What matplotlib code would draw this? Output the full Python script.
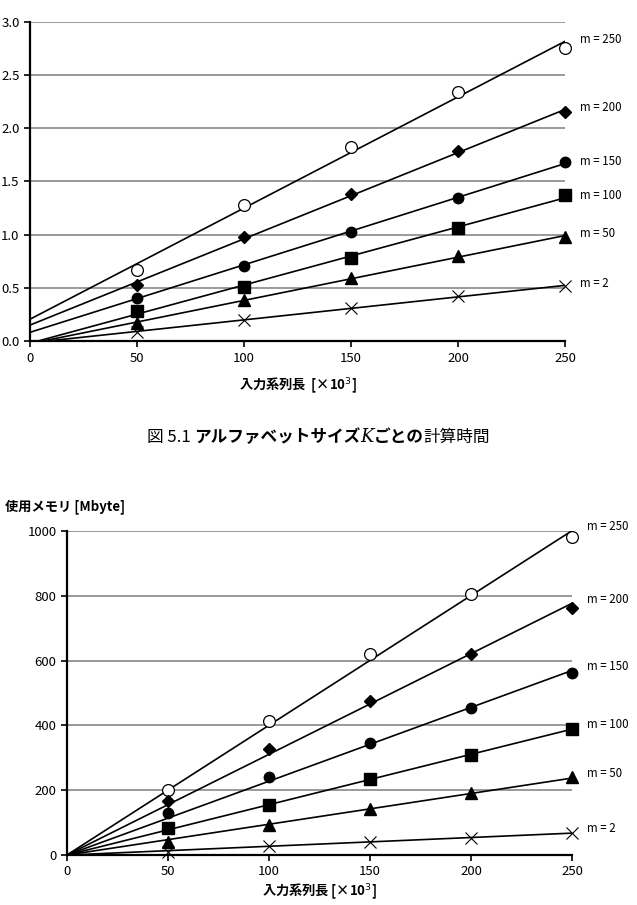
import numpy as np
import matplotlib
matplotlib.use("Agg")
import matplotlib.pyplot as plt

plt.rcParams['font.family'] = ['Noto Sans CJK JP', 'DejaVu Sans']

# ---- data ----
x_len = [50, 100, 150, 200, 250]          # 入力系列長 [x10^3]
series = ["m = 250", "m = 200", "m = 150", "m = 100", "m = 50", "m = 2"]

# 計算時間
time_m250 = [0.67, 1.28, 1.82, 2.34, 2.75]
time_m200 = [0.53, 0.98, 1.38, 1.79, 2.15]
time_m150 = [0.41, 0.71, 1.03, 1.34, 1.68]
time_m100 = [0.28, 0.51, 0.78, 1.06, 1.37]
time_m50 = [0.17, 0.39, 0.59, 0.80, 0.98]
time_m2 = [0.09, 0.20, 0.31, 0.42, 0.52]

# 使用メモリ [Mbyte]
mem_m250 = [200, 414, 620, 805, 981]
mem_m200 = [167, 327, 476, 622, 762]
mem_m150 = [129, 240, 345, 453, 562]
mem_m100 = [84, 154, 234, 309, 389]
mem_m50 = [41, 93, 142, 190, 240]
mem_m2 = [10, 28, 39, 54, 69]

time_data = [time_m250, time_m200, time_m150, time_m100, time_m50, time_m2]
mem_data = [mem_m250, mem_m200, mem_m150, mem_m100, mem_m50, mem_m2]

styles = [
    dict(marker='o', mfc='white', mec='black', ms=8.5, mew=0.9),
    dict(marker='D', mfc='black', mec='black', ms=6),
    dict(marker='o', mfc='black', mec='black', ms=7.5),
    dict(marker='s', mfc='black', mec='black', ms=8),
    dict(marker='^', mfc='black', mec='black', ms=8),
    dict(marker='x', mfc='black', mec='black', ms=9, mew=0.8),
]


def draw_panel(ax, data, through_origin, ymax, ystep, yfmt, label_dy):
    x = np.array(x_len, dtype=float)
    xl = np.array([0.0, 250.0])
    for name, y, st in zip(series, data, styles):
        y = np.array(y, dtype=float)
        # linear trend line (like the spreadsheet trendline)
        if through_origin:
            slope = np.sum(x * y) / np.sum(x * x)
            icpt = 0.0
        else:
            slope, icpt = np.polyfit(x, y, 1)
        ax.plot(xl, slope * xl + icpt, color='black', lw=1.2, zorder=3)
        ax.plot(x, y, ls='none', zorder=4, clip_on=False, **st)
        ax.annotate(name, (250, slope * 250 + icpt), xytext=(11, label_dy),
                    textcoords='offset points', fontsize=8.3, va='center',
                    ha='left', annotation_clip=False)

    ax.set_xlim(0, 250)
    ax.set_ylim(0, ymax)
    ax.set_xticks(np.arange(0, 251, 50))
    ax.set_yticks(np.arange(0, ymax + ystep / 2, ystep))
    ax.yaxis.set_major_formatter(plt.FormatStrFormatter(yfmt))
    ax.grid(axis='y', color='#9a9a9a', lw=1.4)
    ax.set_axisbelow(True)
    for s in ['top', 'right']:
        ax.spines[s].set_visible(False)
    for s in ['left', 'bottom']:
        ax.spines[s].set_linewidth(1.6)
        ax.spines[s].set_zorder(5)
    ax.tick_params(length=4, width=1.2, labelsize=9.5, direction='out')


def caption(fig, x_center, y, pieces):
    # place text pieces side by side, then center the whole line
    r = fig.canvas.get_renderer()
    texts, widths = [], []
    for s, kw in pieces:
        t = fig.text(0, y, s, va='center', ha='left', **kw)
        widths.append(t.get_window_extent(r).width)
        texts.append(t)
    W = fig.bbox.width
    x = x_center * W - sum(widths) / 2
    for t, w in zip(texts, widths):
        t.set_x(x / W)
        x += w


fig = plt.figure(figsize=(6.37, 9.05), dpi=100)

ax1 = fig.add_axes([0.047, 0.623, 0.840, 0.353])
draw_panel(ax1, time_data, False, 3.0, 0.5, '%.1f', 1.5)
ax1.set_xlabel("入力系列長  [×10$^3$]", fontsize=9.5, fontweight='bold', labelpad=8)

caption(fig, 0.5, 0.517, [
    ("図 5.1 ", dict(fontsize=12)),
    ("アルファベットサイズ", dict(fontsize=12, fontweight='bold')),
    ("K", dict(fontsize=13, family='DejaVu Serif', style='italic')),
    ("ごとの", dict(fontsize=12, fontweight='bold')),
    ("計算時間", dict(fontsize=12)),
])

ax2 = fig.add_axes([0.105, 0.0552, 0.793, 0.358])
draw_panel(ax2, mem_data, True, 1000, 200, '%d', 3)
ax2.set_xlabel("入力系列長 [×10$^3$]", fontsize=9.5, fontweight='bold', labelpad=2)
fig.text(0.008, 0.44, "使用メモリ [Mbyte]", fontsize=9.5, fontweight='bold',
         ha='left', va='center')

fig.savefig("out.png", dpi=100)
